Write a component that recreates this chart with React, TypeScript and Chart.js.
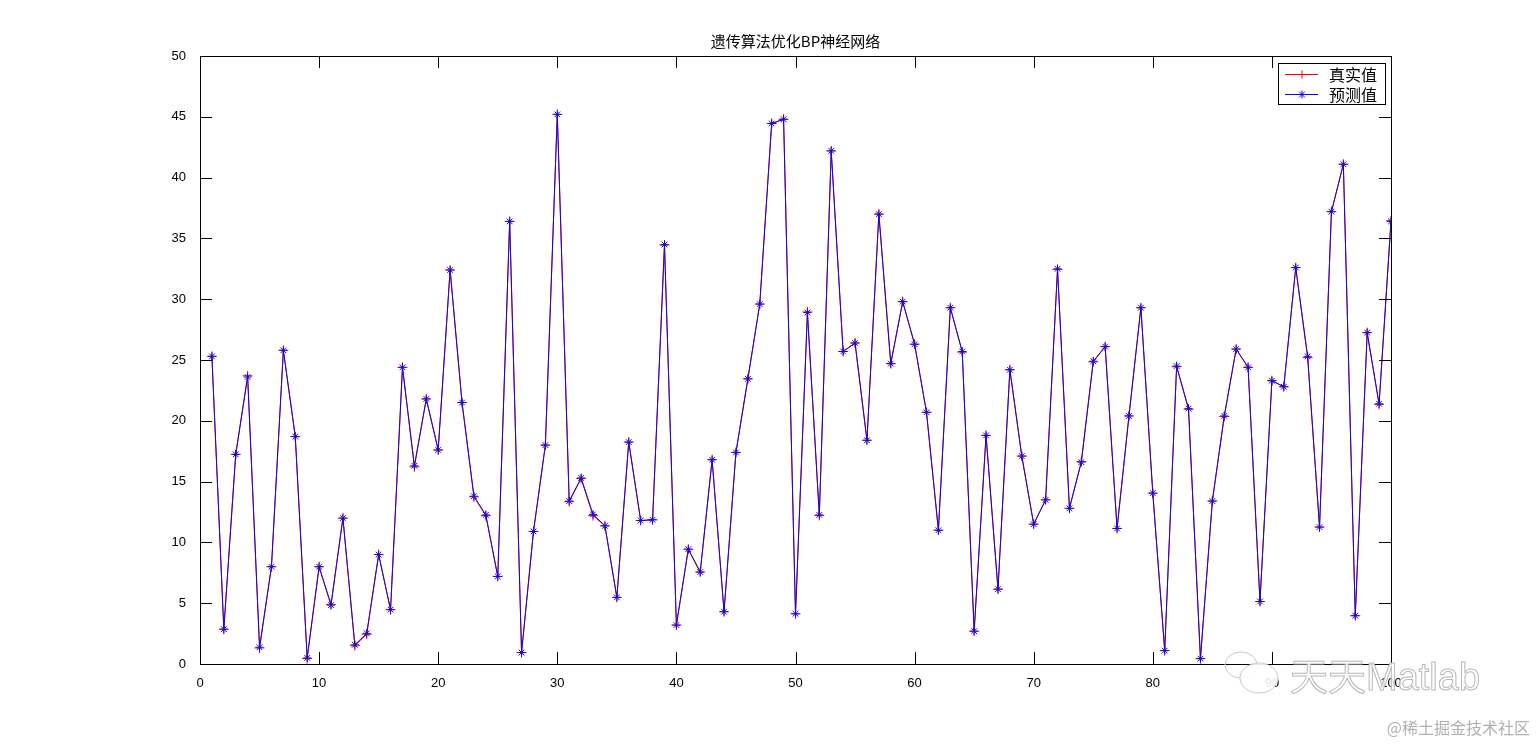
import React, { useEffect, useRef } from "react";
import { Chart, registerables } from "chart.js";

Chart.register(...registerables);

const titleText = "遗传算法优化BP神经网络";
const legendLabels = ["真实值", "预测值"];
const xTicks = [0, 10, 20, 30, 40, 50, 60, 70, 80, 90, 100];
const yTicks = [0, 5, 10, 15, 20, 25, 30, 35, 40, 45, 50];

const predicted = [
  25.3, 2.86, 17.24, 23.6, 1.38, 8.0, 25.8, 18.7, 0.5, 8.0,
  4.84, 12.0, 1.58, 2.52, 9.0, 4.47, 24.4, 16.3, 21.8, 17.6,
  32.4, 21.5, 13.8, 12.26, 7.2, 36.4, 0.94, 10.9, 18.0, 45.2,
  13.4, 15.3, 12.3, 11.36, 5.48, 18.25, 11.8, 11.86, 34.5, 3.2,
  9.44, 7.56, 16.8, 4.3, 17.4, 23.45, 29.6, 44.45, 44.8, 4.13,
  28.9, 12.26, 42.2, 25.7, 26.4, 18.4, 37.0, 24.7, 29.8, 26.3,
  20.7, 11.0, 29.3, 25.7, 2.7, 18.8, 6.15, 24.2, 17.1, 11.5,
  13.5, 32.5, 12.8, 16.6, 24.9, 26.1, 11.15, 20.4, 29.3, 14.05,
  1.1, 24.5, 21.0, 0.44, 13.4, 20.4, 25.9, 24.4, 5.14, 23.3,
  22.8, 32.6, 25.3, 11.26, 37.2, 41.1, 3.97, 27.25, 21.4, 36.4,
];

const real = [
  25.3, 2.86, 17.24, 23.7, 1.32, 8.0, 25.8, 18.7, 0.45, 8.0,
  4.9, 12.0, 1.5, 2.45, 9.0, 4.47, 24.4, 16.22, 21.8, 17.6,
  32.4, 21.5, 13.75, 12.2, 7.2, 36.4, 0.94, 10.9, 18.0, 45.2,
  13.35, 15.25, 12.2, 11.36, 5.48, 18.25, 11.8, 11.86, 34.45, 3.2,
  9.44, 7.56, 16.8, 4.3, 17.4, 23.45, 29.6, 44.45, 44.8, 4.13,
  28.95, 12.22, 42.2, 25.7, 26.4, 18.4, 37.0, 24.7, 29.8, 26.3,
  20.7, 11.0, 29.3, 25.65, 2.7, 18.8, 6.15, 24.2, 17.1, 11.5,
  13.5, 32.45, 12.8, 16.65, 24.85, 26.1, 11.15, 20.4, 29.3, 14.05,
  1.1, 24.45, 20.95, 0.44, 13.4, 20.35, 25.9, 24.4, 5.14, 23.3,
  22.8, 32.6, 25.2, 11.26, 37.2, 41.1, 3.97, 27.25, 21.35, 36.45,
];

const xValues = predicted.map((_, i) => i + 1);

const BLUE = "#0a0ae0";
const RED = "#ff0000";

const boxPlugin = {
  id: "matlabBox",
  afterDraw(chart: any) {
    const { ctx, chartArea } = chart;
    const { left, right, top, bottom } = chartArea;
    const xs = chart.scales.x;
    const ys = chart.scales.y;
    ctx.save();
    ctx.strokeStyle = "#000";
    ctx.lineWidth = 1;
    ctx.strokeRect(Math.round(left) + 0.5, Math.round(top) + 0.5, Math.round(right - left), Math.round(bottom - top));
    const tl = 12;
    ctx.beginPath();
    xTicks.forEach((v) => {
      const px = Math.round(xs.getPixelForValue(v)) + 0.5;
      ctx.moveTo(px, bottom);
      ctx.lineTo(px, bottom - tl);
      ctx.moveTo(px, top);
      ctx.lineTo(px, top + tl);
    });
    yTicks.forEach((v) => {
      const py = Math.round(ys.getPixelForValue(v)) + 0.5;
      ctx.moveTo(left, py);
      ctx.lineTo(left + tl, py);
      ctx.moveTo(right, py);
      ctx.lineTo(right - tl, py);
    });
    ctx.stroke();

    // title
    ctx.fillStyle = "#000";
    ctx.font = "15px 'Noto Sans CJK SC', sans-serif";
    ctx.textAlign = "center";
    ctx.textBaseline = "middle";
    ctx.fillText(titleText, (left + right) / 2, 41);

    // legend
    const lx = 1278, ly = 63, lw = 107, lh = 41;
    ctx.fillStyle = "#fff";
    ctx.fillRect(lx, ly, lw, lh);
    ctx.strokeStyle = "#000";
    ctx.strokeRect(lx + 0.5, ly + 0.5, lw, lh);
    const rows = [
      { color: RED, style: "cross", y: 74 },
      { color: BLUE, style: "star", y: 94 },
    ];
    rows.forEach((r, i) => {
      ctx.strokeStyle = r.color;
      ctx.lineWidth = 1;
      ctx.beginPath();
      ctx.moveTo(1285, r.y + 0.5);
      ctx.lineTo(1318, r.y + 0.5);
      ctx.stroke();
      ctx.beginPath();
      const cx = 1302, cy = r.y + 0.5, rad = 4;
      ctx.moveTo(cx - rad, cy);
      ctx.lineTo(cx + rad, cy);
      ctx.moveTo(cx, cy - rad);
      ctx.lineTo(cx, cy + rad);
      if (r.style === "star") {
        const d = rad * Math.SQRT1_2;
        ctx.moveTo(cx - d, cy - d);
        ctx.lineTo(cx + d, cy + d);
        ctx.moveTo(cx - d, cy + d);
        ctx.lineTo(cx + d, cy - d);
      }
      ctx.stroke();
      ctx.fillStyle = "#000";
      ctx.font = "16px 'Noto Sans CJK SC', sans-serif";
      ctx.textAlign = "left";
      ctx.textBaseline = "middle";
      ctx.fillText(legendLabels[i], 1329, r.y + 1);
    });

    // watermark
    ctx.lineWidth = 1;
    ctx.strokeStyle = "#c8c8c8";
    ctx.beginPath();
    ctx.ellipse(1241, 665, 16, 13, 0, 0, Math.PI * 2);
    ctx.stroke();
    ctx.fillStyle = "rgba(255,255,255,0.9)";
    ctx.beginPath();
    ctx.ellipse(1259, 678, 19, 15, 0, 0, Math.PI * 2);
    ctx.fill();
    ctx.stroke();
    ctx.font = "38px 'Liberation Sans', 'Noto Sans CJK SC', sans-serif";
    ctx.textAlign = "left";
    ctx.textBaseline = "middle";
    ctx.fillStyle = "rgba(255,255,255,0.85)";
    ctx.fillText("天天Matlab", 1290, 680);
    ctx.strokeStyle = "#b8b8b8";
    ctx.strokeText("天天Matlab", 1290, 680);
    ctx.font = "16px 'Noto Sans CJK SC', sans-serif";
    ctx.fillStyle = "#b0b0b0";
    ctx.textAlign = "right";
    ctx.fillText("@稀土掘金技术社区", 1530, 728);
    ctx.restore();
  },
};

export default function App() {
  const ref = useRef<HTMLCanvasElement | null>(null);
  useEffect(() => {
    document.body.style.margin = "0";
    const canvas = ref.current;
    if (!canvas) return;
    const chart = new Chart(canvas, {
      type: "line",
      data: {
        datasets: [
          {
            label: legendLabels[1],
            data: xValues.map((x, i) => ({ x, y: predicted[i] })),
            borderColor: BLUE,
            backgroundColor: BLUE,
            borderWidth: 1,
            pointStyle: "star",
            pointRadius: 4,
            pointBorderWidth: 1,
            pointBorderColor: BLUE,
            tension: 0,
            order: 0,
          },
          {
            label: legendLabels[0],
            data: xValues.map((x, i) => ({ x, y: real[i] })),
            borderColor: RED,
            backgroundColor: RED,
            borderWidth: 1,
            pointStyle: "cross",
            pointRadius: 5,
            pointBorderWidth: 1,
            pointBorderColor: RED,
            tension: 0,
            order: 1,
          },
        ],
      },
      options: {
        animation: false,
        responsive: false,
        maintainAspectRatio: false,
        layout: { padding: { left: 0, top: 56, right: 146, bottom: 0 } },
        plugins: {
          legend: { display: false },
          tooltip: { enabled: false },
          title: { display: false },
        },
        scales: {
          x: {
            type: "linear",
            min: 0,
            max: 100,
            afterBuildTicks: (s: any) => {
              s.ticks = xTicks.map((v) => ({ value: v }));
            },
            afterFit: (s: any) => {
              s.height = 82;
            },
            grid: { display: false },
            border: { display: false },
            ticks: {
              color: "#000",
              font: { family: "'Liberation Sans', Arial, sans-serif", size: 13 },
              padding: 4,
              maxRotation: 0,
              autoSkip: false,
            },
          },
          y: {
            type: "linear",
            min: 0,
            max: 50,
            afterBuildTicks: (s: any) => {
              s.ticks = yTicks.map((v) => ({ value: v }));
            },
            afterFit: (s: any) => {
              s.width = 200;
            },
            grid: { display: false },
            border: { display: false },
            ticks: {
              color: "#000",
              font: { family: "'Liberation Sans', Arial, sans-serif", size: 13 },
              padding: 6,
              autoSkip: false,
            },
          },
        },
      },
      plugins: [boxPlugin],
    } as any);
    return () => chart.destroy();
  }, []);
  return (
    <div style={{ position: "absolute", left: 0, top: 0, width: 1537, height: 746, background: "#fff" }}>
      <canvas ref={ref} width={1537} height={746} style={{ width: 1537, height: 746 }} />
    </div>
  );
}
